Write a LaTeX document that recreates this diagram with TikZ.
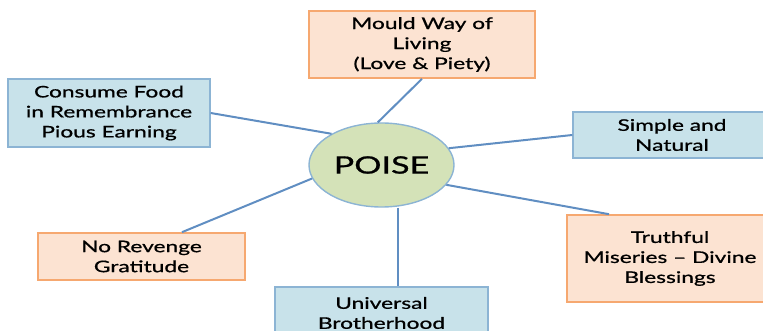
\documentclass[tikz,border=0pt]{standalone}
\usepackage{fontspec}
\setmainfont{Lato}[FakeStretch=1.42, FakeBold=0.8]
\usetikzlibrary{shapes,positioning}

\definecolor{boxblue}{RGB}{200,226,234}
\definecolor{edgeblue}{RGB}{140,180,212}
\definecolor{boxorange}{RGB}{252,227,210}
\definecolor{edgeorange}{RGB}{246,168,112}
\definecolor{poisegreen}{RGB}{212,226,184}
\definecolor{linkblue}{RGB}{96,142,194}

\tikzset{
  bluebox/.style={draw=edgeblue, fill=boxblue, line width=1.4pt, align=center,
    font=\fontsize{16}{20}\selectfont, inner sep=2pt},
  orangebox/.style={draw=edgeorange, fill=boxorange, line width=1.6pt, align=center,
    font=\fontsize{16}{20}\selectfont, inner sep=2pt},
  link/.style={draw=linkblue, line width=2pt}
}

\begin{document}
\begin{tikzpicture}[x=1pt,y=-1pt]
    \useasboundingbox (0,0) rectangle (763,331);

    % centre
    \node[ellipse, draw=edgeblue, fill=poisegreen, line width=1.4pt,
      minimum width=145, minimum height=84, font=\fontsize{24}{30}\selectfont]
      (poise) at (381.5,165) {POISE};

    % boxes round it
    \node[orangebox, minimum width=226, minimum height=67] (mould) at (422,44.5)
      {Mould Way of\\Living\\(Love \& Piety)};
    \node[bluebox, minimum width=202, minimum height=68] (consume) at (109,113)
      {Consume Food\\in Remembrance\\Pious Earning};
    \node[bluebox, minimum width=198, minimum height=46] (simple) at (672,135)
      {Simple and\\Natural};
    \node[orangebox, minimum width=206, minimum height=87] (truthful) at (670,258.5)
      {Truthful\\Miseries -- Divine\\Blessings};
    \node[orangebox, minimum width=207, minimum height=47] (norevenge) at (141.5,256.5)
      {No Revenge\\Gratitude};
    \node[bluebox, minimum width=213, minimum height=52] (universal) at (381.5,313)
      {Universal\\Brotherhood};

    % connectors
    \draw[link] (mould.south) -- (poise.95);
    \draw[link] (consume.east) -- (poise.148);
    \draw[link] (poise.14) -- (simple.west);
    \draw[link] (poise.343) -- (truthful.144);
    \draw[link] (norevenge.31) -- (poise.191);
    \draw[link] ([xshift=16.5pt]poise.south) -- ([xshift=16.5pt]universal.north);
\end{tikzpicture}
\end{document}
